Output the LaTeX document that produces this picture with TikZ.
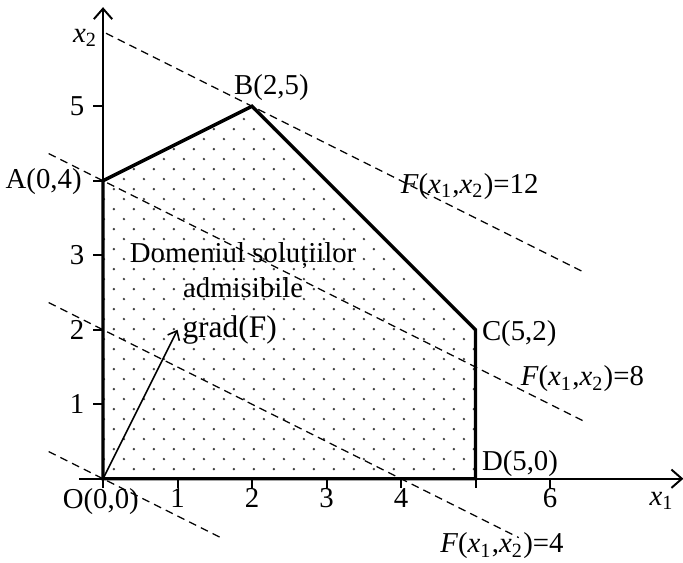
\documentclass[tikz,border=0pt]{standalone}
\usepackage{fontspec}
\setmainfont{Liberation Serif}
\usepackage{tikz}
\usetikzlibrary{arrows.meta,patterns,positioning,calc}
\pgfdeclarepatternformonly{sparsedots}{\pgfpointorigin}{\pgfqpoint{7.6pt}{7.6pt}}{\pgfqpoint{7.6pt}{7.6pt}}{%
  \pgfpathcircle{\pgfqpoint{1.9pt}{1.9pt}}{0.5pt}%
  \pgfpathcircle{\pgfqpoint{5.7pt}{5.7pt}}{0.5pt}%
  \pgfusepath{fill}}
\newcommand{\Fval}[1]{\textit{F}(\textit{x}\textsubscript{1},\textit{x}\textsubscript{2})=#1}
\tikzset{
  % axis with open arrow tip
  axisline/.style={line width=0.75pt, -{Straight Barb[length=4pt,width=7pt]}},
  % feasible region border
  regionline/.style={line width=1.3pt, line join=miter},
  % level line of the objective
  levelline/.style={line width=0.45pt, dash pattern=on 3pt off 2pt},
  % tick mark
  tickmark/.style={line width=0.75pt},
  % text label
  lbl/.style={inner sep=0pt, font=\fontsize{11}{13}\selectfont},
}
\begin{document}
\begin{tikzpicture}[x=1cm,y=1cm]
  \useasboundingbox (-1.383,-1.13) rectangle (7.785,6.426);
  % vertices
  \coordinate (O) at (0,0);
  \coordinate (A) at (0,4);
  \coordinate (B) at (2,5);
  \coordinate (C) at (5,2);
  \coordinate (D) at (5,0);
  % feasible region
  \fill[pattern=sparsedots, pattern color=black!75] (O) -- (A) -- (B) -- (C) -- (D) -- cycle;
  % axes
  \coordinate (xs) at (-0.32,0);
  \coordinate (xe) at (7.79,0);
  \coordinate (ye) at (0,6.33);
  \draw[axisline] (xs) -- (xe);
  \draw[axisline] (O) -- (ye);
  \foreach \i in {0,...,6} \draw[tickmark] (\i,0) -- (\i,-0.13);
  \foreach \i in {1,...,5} \draw[tickmark] (0,\i) -- (-0.13,\i);
  \foreach \i in {1,2,3,4,6} \node[lbl] (tx\i) at (\i,-0.26) {\i};
  \foreach \i in {1,2,3,5} \node[lbl] (ty\i) at (-0.35,\i) {\i};
  \node[lbl] (xone) at (7.5,-0.3) {\textit{x}\textsubscript{1}};
  \node[lbl] (xtwo) at (-0.24,5.92) {\textit{x}\textsubscript{2}};
  % level lines F = x1 + 2 x2
  \coordinate (l0s) at (-0.73,0.365);  \coordinate (l0e) at (1.58,-0.79);
  \coordinate (l4s) at (-0.73,2.365);  \coordinate (l4e) at (5.58,-0.79);
  \coordinate (l8s) at (-0.73,4.365);  \coordinate (l8e) at (6.47,0.765);
  \coordinate (l12s) at (0.04,5.98);   \coordinate (l12e) at (6.47,2.765);
  \foreach \k in {0,4,8,12} \draw[levelline] (l\k s) -- (l\k e);
  % border of the region
  \draw[regionline] (O) -- (A) -- (B) -- (C) -- (D) -- cycle;
  % gradient
  \coordinate (G) at (1,2);
  \draw[line width=0.6pt, -{Straight Barb[length=3pt,width=5pt]}] (O) -- (G);
  \node[lbl, anchor=west, font=\fontsize{12}{14}\selectfont] (gradF) at (1.06,1.99) {grad(F)};
  % vertex labels
  \node[lbl, anchor=north] (lO) at (-0.03,-0.12) {O(0,0)};
  \node[lbl, anchor=east] (lA) at (-0.28,3.99) {A(0,4)};
  \node[lbl, anchor=south] (lB) at (2.26,5.07) {B(2,5)};
  \node[lbl, anchor=west] (lC) at (5.08,1.95) {C(5,2)};
  \node[lbl, anchor=west] (lD) at (5.08,0.2) {D(5,0)};
  % region name
  \node[lbl, align=center] (dom) at (1.88,2.8) {Domeniul soluțiilor\\admisibile};
  % level values
  \node[lbl, anchor=west] (f12) at (3.99,3.92) {\Fval{12}};
  \node[lbl, anchor=west] (f8) at (5.6,1.34) {\Fval{8}};
  \node[lbl, anchor=west] (f4) at (4.52,-0.9) {\Fval{4}};
\end{tikzpicture}
\end{document}
